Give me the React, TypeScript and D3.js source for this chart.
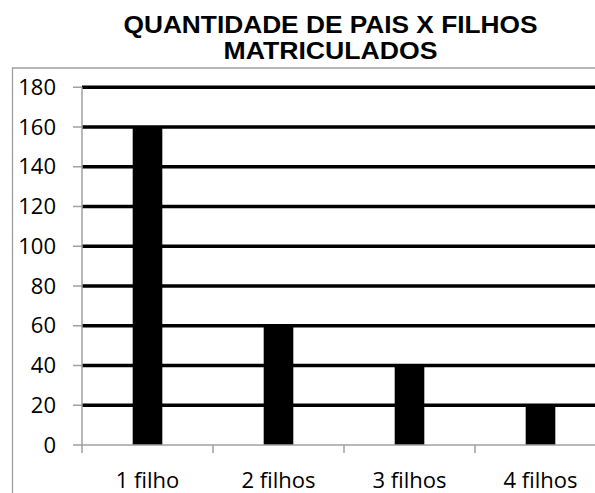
import React from "react";
import * as d3 from "d3";

const categories = ["1 filho", "2 filhos", "3 filhos", "4 filhos"];
const values = [160, 60, 40, 20];
const yTicks = [0, 20, 40, 60, 80, 100, 120, 140, 160, 180];
const titleLines = ["QUANTIDADE DE PAIS X FILHOS", "MATRICULADOS"];
const titleWidths = [414, 214];

export default function App() {
  const W = 595, H = 493;
  const left = 82, right = 606, top = 87.25, bottom = 445;
  const x = d3.scaleBand<string>().domain(categories).range([left, right]).paddingInner(0.774).paddingOuter(0.387);
  const xStep = d3.scaleBand<string>().domain(categories).range([left, right]).padding(0);
  const y = d3.scaleLinear().domain([0, 180]).range([bottom, top]);
  const grey = "#a0a0a0";
  const font = "'Open Sans', sans-serif";
  const boundaries = [...categories.map((c) => xStep(c)!), right];
  return (
    <svg width={W} height={H} style={{ position: "absolute", left: 0, top: 0, background: "#fff" }}>
      <rect x={0} y={0} width={W} height={H} fill="#fff" />
      {/* outer border */}
      <path d={`M12.5,${H + 2} V68 H${W + 2}`} fill="none" stroke={grey} strokeWidth={1.3} />
      {/* title */}
      {titleLines.map((t, i) => (
        <text
          key={t}
          x={330.5}
          y={32.5 + i * 26.8}
          textAnchor="middle"
          fontFamily="'Liberation Sans', Arial, sans-serif"
          fontWeight="bold"
          fontSize={24}
          fill="#000"
          textLength={titleWidths[i]}
          lengthAdjust="spacingAndGlyphs"
        >
          {t}
        </text>
      ))}
      {/* gridlines */}
      {yTicks.filter((v) => v > 0).map((v) => (
        <line key={v} x1={left} x2={right} y1={y(v)} y2={y(v)} stroke="#000" strokeWidth={3.5} />
      ))}
      {/* bars */}
      {categories.map((c, i) => (
        <rect key={c} x={x(c)} y={y(values[i])} width={x.bandwidth()} height={bottom - y(values[i])} fill="#000" />
      ))}
      {/* y axis */}
      <line x1={left} x2={left} y1={top} y2={bottom} stroke={grey} strokeWidth={1.5} />
      {yTicks.map((v) => (
        <g key={v}>
          <line x1={left - 9} x2={left} y1={y(v)} y2={y(v)} stroke={grey} strokeWidth={1.5} />
          <text x={56} y={y(v)} dy="0.35em" textAnchor="end" fontFamily={font} fontSize={22} fill="#000">
            {v}
          </text>
        </g>
      ))}
      {/* x axis */}
      <line x1={left} x2={right} y1={bottom} y2={bottom} stroke={grey} strokeWidth={1.5} />
      {boundaries.map((b, i) => (
        <line key={i} x1={b} x2={b} y1={bottom} y2={bottom + 8} stroke={grey} strokeWidth={1.5} />
      ))}
      {categories.map((c) => (
        <text key={c} x={x(c)! + x.bandwidth() / 2} y={488} textAnchor="middle" fontFamily={font} fontSize={22} fill="#000">
          {c}
        </text>
      ))}
    </svg>
  );
}
